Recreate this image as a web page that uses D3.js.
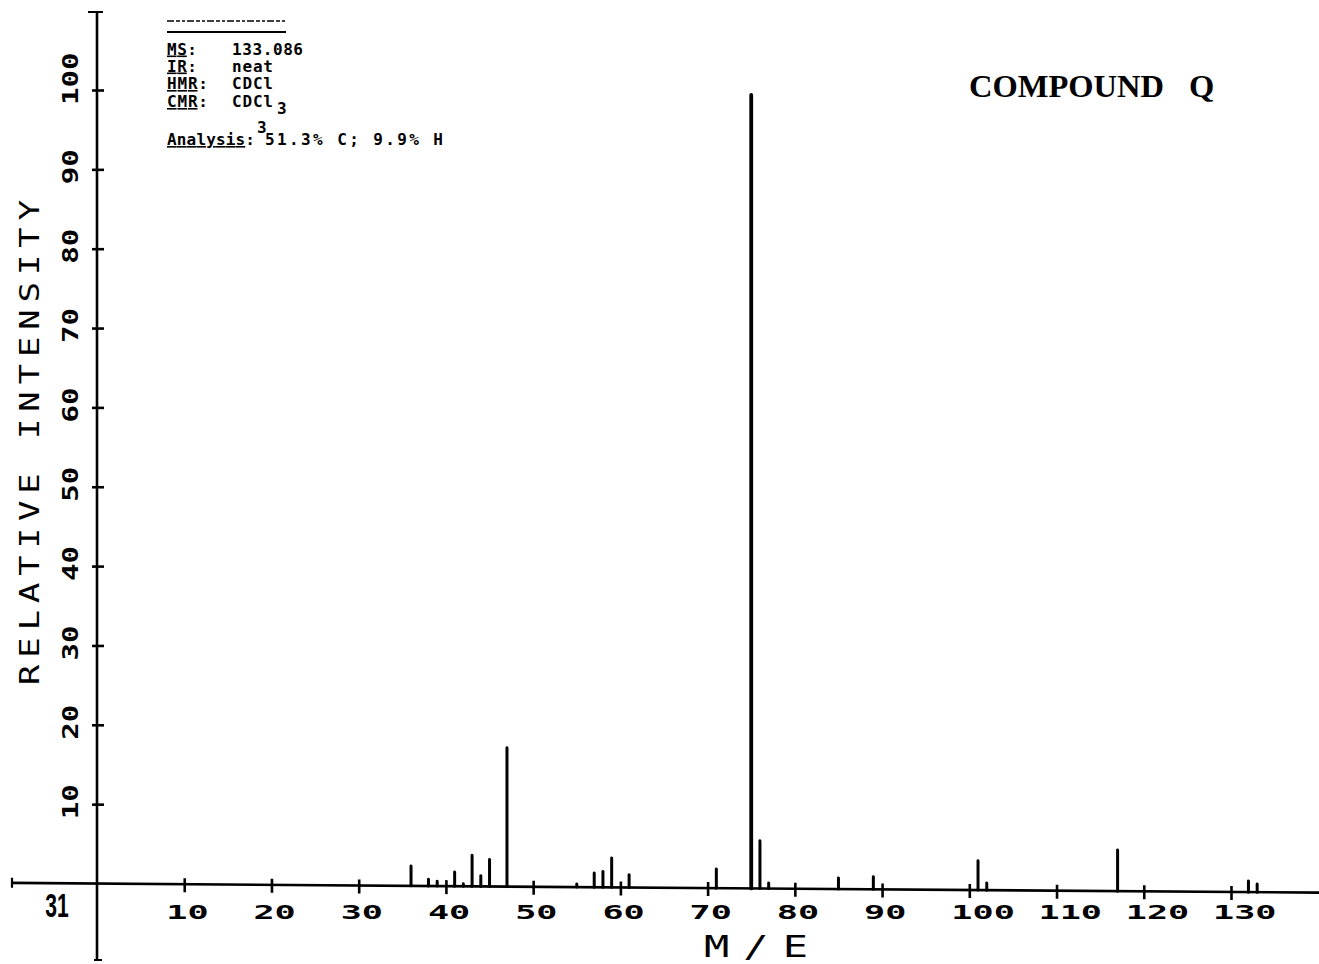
<!DOCTYPE html>
<html>
<head>
<meta charset="utf-8">
<script src="https://cdn.jsdelivr.net/npm/d3@7.9.0/dist/d3.min.js"></script>
<style>
  html, body { margin: 0; padding: 0; background: #fff; }
  svg { display: block; }
</style>
</head>
<body>
<script>
// Peaks (m/e and relative intensity)
const massValues = [36, 38, 39, 41, 42, 43, 44, 45, 47, 55, 57, 58, 59, 61, 71, 75, 76, 77, 85, 89, 101, 102, 117, 132, 133];
const intensities = [2.5, 0.85, 0.6, 1.8, 0.3, 3.9, 1.35, 3.4, 17.5, 0.4, 1.8, 2.0, 3.7, 1.6, 2.4, 100, 6.0, 0.7, 1.4, 1.6, 3.7, 0.9, 5.2, 1.4, 1.05];

// Axis ticks
const xTicks = [10, 20, 30, 40, 50, 60, 70, 80, 90, 100, 110, 120, 130];
const yTicks = [10, 20, 30, 40, 50, 60, 70, 80, 90, 100];

// Info block in the top left
const infoLabels = ["MS", "IR", "HMR", "CMR", "Analysis"];
const infoValues = ["133.086", "neat", "CDCl", "CDCl", "51.3% C; 9.9% H"];

const width = 1319, height = 964;
const mono = "'DejaVu Sans Mono', 'Liberation Mono', monospace";

const svg = d3.select("body").append("svg")
    .attr("width", width)
    .attr("height", height);

const x = d3.scaleLinear().domain([0, 130]).range([97, 1231]);
const y = d3.scaleLinear().domain([0, 100]).range([883.5, 90]);

// the plotter paper was a bit crooked: baseline drops slightly to the right
const plot = svg.append("g")
    .attr("transform", `translate(${x(0)},${y(0)}) skewY(0.43) translate(${-x(0)},${-y(0)})`);

// x axis line
plot.append("line")
    .attr("x1", 11).attr("x2", width)
    .attr("y1", y(0)).attr("y2", y(0))
    .attr("stroke", "#000").attr("stroke-width", 2.6);
plot.append("line")
    .attr("x1", 12).attr("x2", 12)
    .attr("y1", y(0) - 5).attr("y2", y(0) + 5)
    .attr("stroke", "#000").attr("stroke-width", 2.2);

const xAxis = plot.append("g")
    .attr("transform", `translate(0,${y(0)})`)
    .call(d3.axisBottom(x).tickValues(xTicks).tickSize(8).tickFormat(""));
xAxis.select(".domain").remove();
xAxis.selectAll(".tick line")
    .attr("y1", -6).attr("y2", 8)
    .attr("stroke", "#000").attr("stroke-width", 2.6);

// peaks
plot.selectAll("line.peak")
    .data(massValues)
    .enter().append("line")
    .attr("class", "peak")
    .attr("x1", d => x(d)).attr("x2", d => x(d))
    .attr("y1", y(0))
    .attr("y2", (d, i) => y(intensities[i]))
    .attr("stroke", "#000")
    .attr("stroke-width", (d, i) => intensities[i] > 50 ? 3.8 : 3)
    .attr("stroke-linecap", "round");

// y axis
svg.append("line")
    .attr("x1", x(0)).attr("x2", x(0))
    .attr("y1", 12).attr("y2", 960)
    .attr("stroke", "#000").attr("stroke-width", 2.6);
svg.append("line")
    .attr("x1", x(0) - 9).attr("x2", x(0) + 6)
    .attr("y1", 12).attr("y2", 12)
    .attr("stroke", "#000").attr("stroke-width", 2);
svg.append("line")
    .attr("x1", x(0) - 3).attr("x2", x(0) + 5)
    .attr("y1", 960).attr("y2", 960)
    .attr("stroke", "#000").attr("stroke-width", 2);

const yAxis = svg.append("g")
    .attr("transform", `translate(${x(0)},0)`)
    .call(d3.axisLeft(y).tickValues(yTicks).tickSize(5).tickFormat(""));
yAxis.select(".domain").remove();
yAxis.selectAll(".tick line")
    .attr("x1", -5).attr("x2", 7)
    .attr("stroke", "#000").attr("stroke-width", 2.6);

// tick labels, wide plotter digits
svg.selectAll("text.xlab")
    .data(xTicks)
    .enter().append("text")
    .attr("class", "xlab")
    .attr("transform", d => `translate(${x(d) - 18},919) scale(1.85,1)`)
    .attr("font-family", mono)
    .attr("font-weight", "bold")
    .attr("font-size", 19)
    .text(d => d);

svg.selectAll("text.ylab")
    .data(yTicks)
    .enter().append("text")
    .attr("class", "ylab")
    .attr("transform", d => `translate(78,${y(d) + 15}) rotate(-90) scale(1.42,1)`)
    .attr("font-family", mono)
    .attr("font-weight", "bold")
    .attr("font-size", 20.5)
    .text(d => d);

// axis titles
svg.append("text")
    .attr("transform", "translate(39,685) rotate(-90) scale(1.3,1)")
    .attr("font-family", mono)
    .attr("font-size", 26)
    .attr("textLength", 485 / 1.3)
    .attr("lengthAdjust", "spacing")
    .text("RELATIVE INTENSITY");

svg.append("text")
    .attr("transform", "translate(704,957) scale(1.4,1)")
    .attr("font-family", mono)
    .attr("font-size", 30)
    .attr("textLength", 104 / 1.4)
    .attr("lengthAdjust", "spacing")
    .text("M/E");

svg.append("text")
    .attr("transform", "translate(57,917) scale(0.62,1)")
    .attr("text-anchor", "middle")
    .attr("font-family", "'Liberation Sans', Arial, sans-serif")
    .attr("font-weight", "bold")
    .attr("font-size", 34)
    .text("31");

// title
const title = svg.append("text")
    .attr("x", 969).attr("y", 97)
    .attr("font-family", "'Liberation Serif', 'Times New Roman', serif")
    .attr("font-weight", "bold")
    .attr("font-size", 32.5)
    .text("COMPOUND");
title.append("tspan").attr("x", 1189).text("Q");

// info block
const info = svg.append("g")
    .attr("font-family", mono)
    .attr("font-weight", "bold")
    .attr("font-size", 16);

info.append("line")
    .attr("x1", 167).attr("x2", 287).attr("y1", 21).attr("y2", 21)
    .attr("stroke", "#000").attr("stroke-width", 1.6)
    .attr("stroke-dasharray", "7 2 4 2 3 2");
info.append("line")
    .attr("x1", 167).attr("x2", 286).attr("y1", 32).attr("y2", 32)
    .attr("stroke", "#000").attr("stroke-width", 2);

const infoY = [54.5, 71.5, 89, 107, 145];
const labelWidths = [30, 30, 41, 41, 88];
const valueWidths = [71, 41, 41, 41, 178];
infoLabels.forEach((lab, i) => {
    const t = info.append("text")
        .attr("x", 167).attr("y", infoY[i])
        .attr("textLength", labelWidths[i]);
    t.append("tspan").attr("text-decoration", "underline").text(lab);
    t.append("tspan").text(":");
});
infoValues.forEach((val, i) => {
    info.append("text")
        .attr("x", i === 4 ? 265 : 232)
        .attr("y", infoY[i])
        .attr("textLength", valueWidths[i])
        .text(val);
});
// the subscript 3s typed half a line down
info.append("text").attr("x", 277).attr("y", 114).text("3");
info.append("text").attr("x", 257).attr("y", 133).text("3");
</script>
</body>
</html>
